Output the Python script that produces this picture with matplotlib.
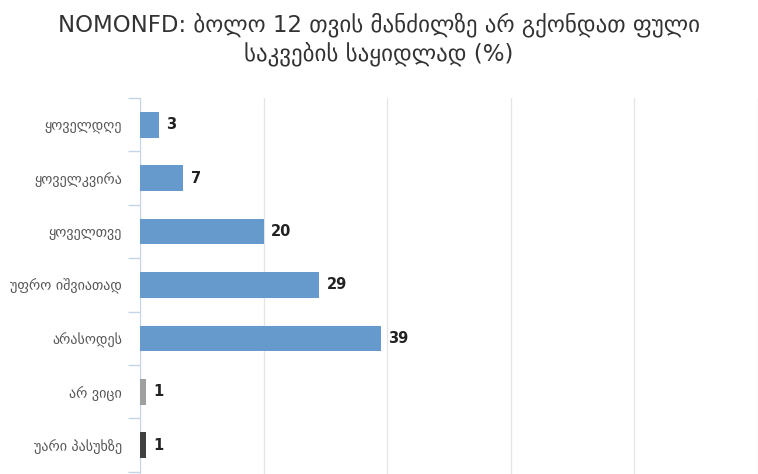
import matplotlib
matplotlib.use("Agg")
import matplotlib.pyplot as plt

categories = ["ყოველდღე", "ყოველკვირა", "ყოველთვე", "უფრო იშვიათად", "არასოდეს", "არ ვიცი", "უარი პასუხზე"]
values = [3, 7, 20, 29, 39, 1, 1]
colors = ["#6699cc", "#6699cc", "#6699cc", "#6699cc", "#6699cc", "#a0a0a0", "#404040"]
xticks = [0, 20, 40, 60, 80, 100]
title = "NOMONFD: ბოლო 12 თვის მანძილზე არ გქონდათ ფული\nსაკვების საყიდლად (%)"

plt.rcParams['font.family'] = ['DejaVu Sans']
W, H = 758, 474
fig = plt.figure(figsize=(W/100, H/100), dpi=100)
ax = fig.add_axes([140/W, 0, 1 - 140/W, 1 - 98/H])

y = list(range(len(categories)))
ax.barh(y, values, height=0.48, color=colors, zorder=3)
for yi, v in zip(y, values):
    ax.text(v + 1.2, yi, str(v), va='center', ha='left', fontsize=10.5, fontweight='bold', color='#222222', zorder=4)

ax.set_xlim(0, 97.5)
ax.set_ylim(len(categories) - 0.5 + 0.04, -0.5)
ax.set_xticks(xticks)
ax.tick_params(axis='x', length=0, labelbottom=False)
ax.grid(axis='x', color='#e6e6e6', linewidth=1, zorder=0)

ax.set_yticks(y)
ax.set_yticklabels(categories, fontsize=10.2, color='#555555')
ax.set_yticks([i - 0.5 for i in range(len(categories) + 1)], minor=True)
ax.tick_params(axis='y', which='major', length=0, pad=13)
ax.tick_params(axis='y', which='minor', length=9, color='#c5d5e8', width=1)

for s in ['top', 'right', 'bottom']:
    ax.spines[s].set_visible(False)
ax.spines['left'].set_color('#c5d5e8')

fig.text(0.5, 1 - 39/H, title, ha='center', va='center', fontsize=16.5, color='#333333', linespacing=1.2)

fig.savefig("out.png", dpi=100)
